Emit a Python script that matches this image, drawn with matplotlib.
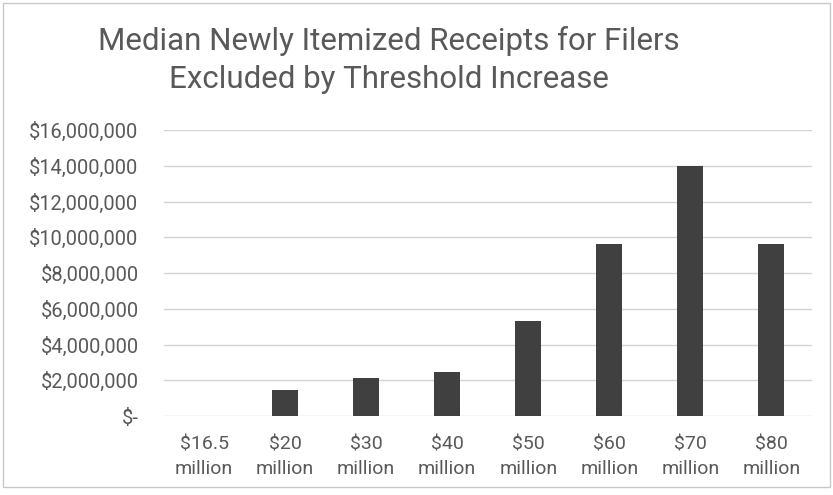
import numpy as np
import matplotlib.pyplot as plt
from matplotlib.patches import Rectangle

# threshold levels and median newly itemized receipts
thresholds = ['$16.5\nmillion', '$20\nmillion', '$30\nmillion', '$40\nmillion',
              '$50\nmillion', '$60\nmillion', '$70\nmillion', '$80\nmillion']
medianReceipts = [0, 1450000, 2100000, 2450000, 5300000, 9650000, 14000000, 9600000]

yTicks = [0, 2000000, 4000000, 6000000, 8000000, 10000000, 12000000, 14000000, 16000000]
yTickLabels = ['$-', '$2,000,000', '$4,000,000', '$6,000,000', '$8,000,000',
               '$10,000,000', '$12,000,000', '$14,000,000', '$16,000,000']

plt.rcParams['font.family'] = ['Roboto', 'DejaVu Sans']
textColor = '#595959'

fig = plt.figure('Receipts', figsize=(8.33, 4.95), dpi=100)
ax = fig.add_axes([163.5/833, 1-416/495, (812-163.5)/833, (416-130)/495])

x = np.arange(len(thresholds))
ax.bar(x, medianReceipts, width=0.32, color='#404040', zorder=3)

ax.set_xlim(-0.5, len(thresholds)-0.5)
ax.set_ylim(0, 16000000)
ax.set_yticks(yTicks)
ax.set_yticklabels(yTickLabels)
ax.set_xticks(x)
ax.set_xticklabels(thresholds, linespacing=1.45)
ax.tick_params(axis='both', length=0, labelsize=14, colors=textColor)
ax.tick_params(axis='y', labelsize=14.4, pad=18)
ax.tick_params(axis='x', pad=14)
ax.yaxis.grid(True, color='#d4d4d4', linewidth=1)
ax.set_axisbelow(True)
for s in ax.spines.values():
	s.set_visible(False)

# title
fig.text(389/833, 1-60/495, 'Median Newly Itemized Receipts for Filers\nExcluded by Threshold Increase',
         ha='center', va='center', fontsize=22.5, color=textColor, linespacing=1.38)

# chart outline
fig.patches.append(Rectangle((3/833, 8/495), 827/833, 484/495, transform=fig.transFigure,
                             fill=False, edgecolor='#c8c8c8', linewidth=1))

fig.savefig('out.png', dpi=100)
